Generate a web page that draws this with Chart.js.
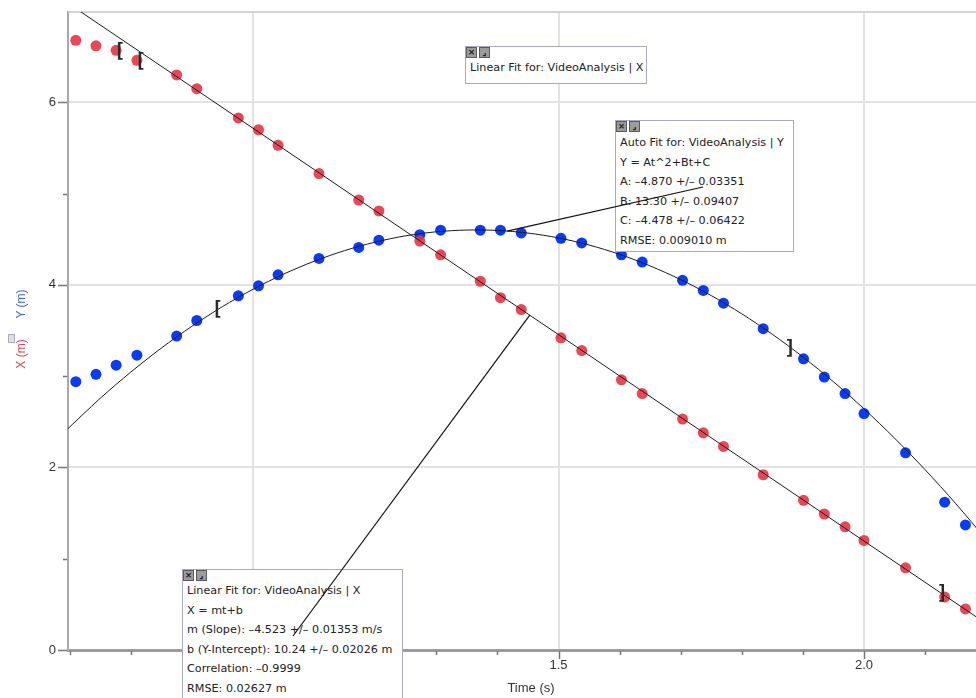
<!DOCTYPE html>
<html>
<head>
<meta charset="utf-8">
<script src="https://cdn.jsdelivr.net/npm/chart.js@4.4.1/dist/chart.umd.min.js"></script>
<style>
  html, body { margin: 0; padding: 0; background: #fff; }
  #wrap { position: relative; width: 976px; height: 698px; overflow: hidden; }
  #chart, #over { position: absolute; left: 0; top: 0; }
  #over { pointer-events: none; z-index: 5; }
  .box { position: absolute; background: #fff; border: 1.5px solid #a9a9c6; box-sizing: border-box;
         font: 11.2px "Lucida Grande", "DejaVu Sans", sans-serif; color: #222;
         line-height: 19.6px; white-space: nowrap; padding: 11px 0 0 4px; z-index: 3; }
  .icons { position: absolute; left: 0; top: 0; height: 11px; }
  .icons span { float: left; width: 9px; height: 9px; margin-right: 2px; background: #9c9c9c;
                border: 1px solid #5a5a5a; font: bold 9px/9px "DejaVu Sans", sans-serif; color: #222; text-align: center; }
  .ylab { position: absolute; left: 21px; transform: translate(-50%, -50%) rotate(-90deg);
          font: 12px "Liberation Sans", sans-serif; white-space: nowrap; }
  #xtitle { position: absolute; left: 531px; top: 680px; transform: translateX(-50%);
            font: 13px "Liberation Sans", sans-serif; color: #333; }
</style>
</head>
<body>
<div id="wrap">
  <canvas id="chart" width="976" height="698"></canvas>

  <div class="ylab" style="top:304px;color:#3f56f5;">Y (m)</div>
  <div style="position:absolute;left:8px;top:334px;width:5px;height:7px;border:1px solid #aab;background:#dde;"></div>
  <div class="ylab" style="top:354px;color:#e5404e;">X (m)</div>
  <div id="xtitle">Time (s)</div>

  <div class="box" style="left:465px;top:46px;width:182px;height:38px;">
    <div class="icons"><span>×</span><span>⌟</span></div>
    <div>Linear Fit for: VideoAnalysis | X</div>
  </div>

  <div class="box" style="left:615px;top:120px;width:179px;height:132px;padding-top:12px;">
    <div class="icons"><span>×</span><span>⌟</span></div>
    <div>Auto Fit for: VideoAnalysis | Y</div>
    <div>Y = At^2+Bt+C</div>
    <div>A: –4.870 +/– 0.03351</div>
    <div>B: 13.30 +/– 0.09407</div>
    <div>C: –4.478 +/– 0.06422</div>
    <div>RMSE: 0.009010 m</div>
  </div>

  <div class="box" style="left:182px;top:569px;width:221px;height:140px;">
    <div class="icons"><span>×</span><span>⌟</span></div>
    <div>Linear Fit for: VideoAnalysis | X</div>
    <div>X = mt+b</div>
    <div>m (Slope): –4.523 +/– 0.01353 m/s</div>
    <div>b (Y-Intercept): 10.24 +/– 0.02026 m</div>
    <div>Correlation: –0.9999</div>
    <div>RMSE: 0.02627 m</div>
  </div>

  <canvas id="over" width="976" height="698"></canvas>
</div>

<script>
// video frames (s) and tracked positions (m)
const timeS = [0.710, 0.743, 0.776, 0.810, 0.875, 0.908, 0.976, 1.009, 1.041, 1.108, 1.173, 1.206,
               1.273, 1.307, 1.372, 1.405, 1.439, 1.504, 1.538, 1.603, 1.637, 1.703, 1.737, 1.770,
               1.835, 1.901, 1.935, 1.969, 2.000, 2.068, 2.132, 2.166];
const posX = [6.68, 6.62, 6.57, 6.46, 6.30, 6.15, 5.83, 5.70, 5.53, 5.22, 4.93, 4.81,
              4.48, 4.33, 4.04, 3.86, 3.73, 3.42, 3.28, 2.96, 2.81, 2.53, 2.38, 2.23,
              1.92, 1.64, 1.49, 1.35, 1.20, 0.90, 0.58, 0.45];
const posY = [2.94, 3.02, 3.12, 3.23, 3.44, 3.61, 3.88, 3.99, 4.11, 4.29, 4.41, 4.49,
              4.55, 4.60, 4.60, 4.60, 4.57, 4.51, 4.46, 4.33, 4.25, 4.05, 3.94, 3.80,
              3.52, 3.19, 2.99, 2.81, 2.59, 2.16, 1.62, 1.37];

// fit curves, X = mt+b and Y = At^2+Bt+C (values from the fit boxes)
const linFitT = [0.69, 2.20];
const linFitX = [7.119, 0.289];
const quadFitT = [0.69, 0.75, 0.80, 0.85, 0.90, 0.95, 1.00, 1.05, 1.10, 1.15, 1.20, 1.25, 1.30, 1.35, 1.40, 1.45,
                  1.50, 1.55, 1.60, 1.65, 1.70, 1.75, 1.80, 1.85, 1.90, 1.95, 2.00, 2.05, 2.10, 2.15, 2.20];
const quadFitY = [2.380, 2.758, 3.045, 3.308, 3.547, 3.762, 3.952, 4.118, 4.259, 4.376, 4.469, 4.538, 4.582, 4.601, 4.597, 4.568,
                  4.515, 4.437, 4.335, 4.208, 4.058, 3.883, 3.683, 3.459, 3.211, 2.939, 2.642, 2.321, 1.975, 1.605, 1.211];

// fit range brackets
const bracketT = [0.782, 0.816, 0.942, 1.879, 2.128];
const bracketV = [6.55, 6.44, 3.72, 3.30, 0.61];
const bracketChar = ['[', '[', '[', ']', ']'];

// callout lines: point on the curve -> fit box
const calloutT = [1.416, 1.453];
const calloutV = [4.59, 3.67];
const calloutBox = [[703, 187], [293, 636]];

// axes
const xTicks = [0.7, 0.8, 0.9, 1.0, 1.1, 1.2, 1.3, 1.4, 1.5, 1.6, 1.7, 1.8, 1.9, 2.0, 2.1];
const xMajor = [1.0, 1.5, 2.0];
const yTicks = [0, 1, 2, 3, 4, 5, 6];
const yMajor = [0, 2, 4, 6];

const isMajor = (list, v) => list.some(m => Math.abs(m - v) < 1e-6);

const vaPlugin = {
  id: 'vaExtras',
  beforeDatasetsDraw(chart) {
    const { ctx, chartArea: a, scales: { x, y } } = chart;
    ctx.save();
    ctx.strokeStyle = '#c6c6c6';
    ctx.lineWidth = 1.5;
    ctx.beginPath();
    ctx.moveTo(a.left, a.top);
    ctx.lineTo(a.right, a.top);
    ctx.stroke();

    ctx.strokeStyle = '#777';
    ctx.lineWidth = 1.5;
    ctx.beginPath();
    yTicks.forEach(v => {
      const py = Math.round(y.getPixelForValue(v)) + 0.5;
      const len = isMajor(yMajor, v) ? 10 : 5;
      ctx.moveTo(a.left - len, py);
      ctx.lineTo(a.left - 1, py);
    });
    xTicks.forEach(v => {
      const px = Math.round(x.getPixelForValue(v)) + 0.5;
      const len = isMajor(xMajor, v) ? 9 : 5;
      ctx.moveTo(px, a.bottom + 1);
      ctx.lineTo(px, a.bottom + len);
    });
    ctx.stroke();
    ctx.restore();
  },
  afterDatasetsDraw(chart) {
    const { ctx, scales: { x, y } } = chart;
    ctx.save();
    ctx.fillStyle = '#2a2a2a';
    ctx.font = 'bold 19px "DejaVu Sans Mono", monospace';
    ctx.textAlign = 'center';
    ctx.textBaseline = 'middle';
    bracketT.forEach((t, i) => {
      ctx.fillText(bracketChar[i], x.getPixelForValue(t), y.getPixelForValue(bracketV[i]));
    });
    ctx.restore();
  },
  afterDraw(chart) {
    const { scales: { x, y } } = chart;
    const octx = document.getElementById('over').getContext('2d');
    octx.clearRect(0, 0, 976, 698);
    octx.strokeStyle = '#111';
    octx.lineWidth = 1.2;
    calloutT.forEach((t, i) => {
      octx.beginPath();
      octx.moveTo(x.getPixelForValue(t), y.getPixelForValue(calloutV[i]));
      octx.lineTo(calloutBox[i][0], calloutBox[i][1]);
      octx.stroke();
    });
  }
};

new Chart(document.getElementById('chart'), {
  type: 'scatter',
  data: {
    datasets: [
      {
        label: 'Linear Fit X',
        type: 'line',
        data: linFitT.map((t, i) => ({ x: t, y: linFitX[i] })),
        borderColor: '#1a1a1a',
        borderWidth: 1,
        pointRadius: 0,
        fill: false
      },
      {
        label: 'Auto Fit Y',
        type: 'line',
        data: quadFitT.map((t, i) => ({ x: t, y: quadFitY[i] })),
        borderColor: '#1a1a1a',
        borderWidth: 1,
        pointRadius: 0,
        tension: 0.3,
        fill: false
      },
      {
        label: 'X (m)',
        data: timeS.map((t, i) => ({ x: t, y: posX[i] })),
        backgroundColor: 'rgba(229,52,66,0.9)',
        borderWidth: 0,
        pointRadius: 5.5
      },
      {
        label: 'Y (m)',
        data: timeS.map((t, i) => ({ x: t, y: posY[i] })),
        backgroundColor: '#0b3cf5',
        borderWidth: 0,
        pointRadius: 5.5
      }
    ]
  },
  options: {
    responsive: false,
    animation: false,
    layout: { autoPadding: false, padding: { top: 12, right: 0, left: 0, bottom: 0 } },
    plugins: { legend: { display: false }, tooltip: { enabled: false } },
    scales: {
      x: {
        type: 'linear',
        min: 0.6972,
        max: 2.1833,
        afterBuildTicks: s => { s.ticks = xTicks.map(v => ({ value: v })); },
        afterFit: s => { s.height = 48; s.paddingLeft = 0; s.paddingRight = 0; },
        ticks: {
          autoSkip: false,
          maxRotation: 0,
          padding: 8,
          color: '#333',
          font: { family: 'Liberation Sans', size: 13 },
          callback: v => isMajor(xMajor, v) ? v.toFixed(1) : ''
        },
        grid: {
          drawTicks: false,
          lineWidth: 2,
          color: c => c.tick && isMajor(xMajor, c.tick.value) ? '#e2e2e2' : 'rgba(0,0,0,0)'
        },
        border: { color: '#9c9c9c', width: 3 }
      },
      y: {
        type: 'linear',
        min: 0,
        max: 6.99,
        afterBuildTicks: s => { s.ticks = yTicks.map(v => ({ value: v })); },
        afterFit: s => { s.width = 68; s.paddingTop = 0; s.paddingBottom = 0; },
        ticks: {
          autoSkip: false,
          padding: 12,
          color: '#333',
          font: { family: 'Liberation Sans', size: 13 },
          callback: v => isMajor(yMajor, v) ? String(v) : ''
        },
        grid: {
          drawTicks: false,
          lineWidth: 2,
          color: c => c.tick && isMajor(yMajor, c.tick.value) && c.tick.value !== 0 ? '#e2e2e2' : 'rgba(0,0,0,0)'
        },
        border: { color: '#a8a8a8', width: 2 }
      }
    }
  },
  plugins: [vaPlugin]
});
</script>
</body>
</html>
